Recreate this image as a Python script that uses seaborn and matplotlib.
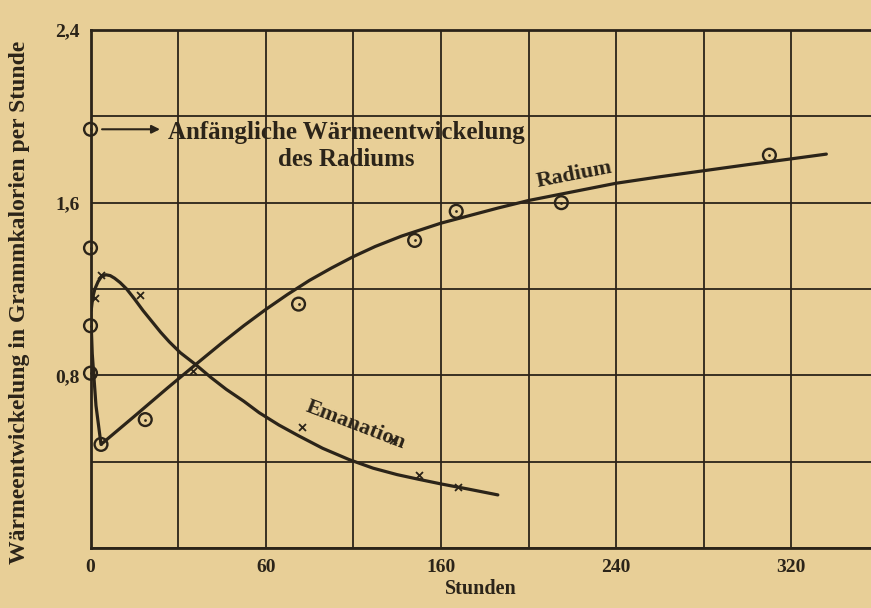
import numpy as np
import pandas as pd
import matplotlib.pyplot as plt
import seaborn as sns

# Values (hours, gram-calories per hour).
radium_pt_h = [0, 0, 0, 0, 4.8, 25, 95, 148, 167, 215, 310]
radium_pt_v = [1.94, 1.39, 1.03, 0.81, 0.48, 0.595, 1.13, 1.425, 1.56, 1.60, 1.82]

eman_pt_h = [2, 5, 22.6, 47, 96.6, 138, 150, 168]
eman_pt_v = [1.16, 1.265, 1.17, 0.82, 0.56, 0.50, 0.338, 0.283]

radium_curve_h = [0, 0.8, 2.5, 4.8, 20, 35, 48, 60, 70, 80, 90, 100, 110, 120, 130,
                  142, 160, 186, 200, 220, 240, 260, 280, 300, 320, 336]
radium_curve_v = [1.12, 0.90, 0.66, 0.48, 0.61, 0.74, 0.85, 0.95, 1.03, 1.105, 1.175,
                  1.24, 1.297, 1.35, 1.397, 1.445, 1.505, 1.575, 1.61, 1.65, 1.69, 1.72,
                  1.748, 1.776, 1.803, 1.825]

eman_curve_h = [0.3, 1, 2, 3.5, 5, 7, 9, 11, 13.5, 16.5, 20, 24, 28, 32, 36, 41, 48,
                55, 62, 70, 77, 86, 95, 106, 118, 129, 140, 150, 160, 172, 186]
eman_curve_v = [1.10, 1.16, 1.20, 1.235, 1.258, 1.266, 1.262, 1.25, 1.23, 1.20, 1.155,
                1.10, 1.05, 1.0, 0.955, 0.905, 0.85, 0.79, 0.735, 0.68, 0.627, 0.57,
                0.52, 0.462, 0.41, 0.37, 0.34, 0.318, 0.297, 0.274, 0.246]

x_ticks = [0, 40, 80, 120, 160, 200, 240, 280, 320]
x_labels = ["0", "", "60", "", "160", "", "240", "", "320"]
y_ticks = [0, 0.4, 0.8, 1.2, 1.6, 2.0, 2.4]
y_labels = ["", "", "0,8", "", "1,6", "", "2,4"]

paper = "#e8cf97"
ink = "#2b2419"

sns.set_style("white", {"axes.facecolor": paper, "figure.facecolor": paper})
plt.rcParams["font.family"] = ["Liberation Serif", "DejaVu Serif"]
plt.rcParams["font.weight"] = "bold"
plt.rcParams["axes.labelweight"] = "bold"

fig = plt.figure(figsize=(8.71, 6.08), dpi=100)
ax = fig.add_axes([90.5 / 871, 1 - 548 / 608, (871 - 90.5) / 871, (548 - 30) / 608])

df_rc = pd.DataFrame({"h": radium_curve_h, "v": radium_curve_v})
df_ec = pd.DataFrame({"h": eman_curve_h, "v": eman_curve_v})
sns.lineplot(data=df_rc, x="h", y="v", sort=False, color=ink, lw=2.3, ax=ax)
sns.lineplot(data=df_ec, x="h", y="v", sort=False, color=ink, lw=2.3, ax=ax)

df_rp = pd.DataFrame({"h": radium_pt_h, "v": radium_pt_v})
sns.scatterplot(data=df_rp, x="h", y="v", marker="o", s=85, facecolor="none",
                edgecolor=ink, linewidth=1.7, ax=ax, zorder=5, clip_on=False)
sns.scatterplot(data=df_rp, x="h", y="v", marker="o", s=4, color=ink, linewidth=0,
                ax=ax, zorder=5, clip_on=False)
df_ep = pd.DataFrame({"h": eman_pt_h, "v": eman_pt_v})
sns.scatterplot(data=df_ep, x="h", y="v", marker="x", s=25, color=ink, linewidth=1.3,
                ax=ax, zorder=5)

ax.set_xlim(0, (871 - 90.5) / 2.19)
ax.set_ylim(0, 2.4)
ax.set_xticks(x_ticks)
ax.set_xticklabels(x_labels, fontsize=14)
ax.set_yticks(y_ticks)
ax.set_yticklabels(y_labels, fontsize=14)
ax.tick_params(length=0, pad=8, colors=ink)
ax.grid(True, color=ink, lw=1.3)
for side in ["left", "bottom", "top"]:
    ax.spines[side].set_color(ink)
    ax.spines[side].set_linewidth(2)
ax.spines["right"].set_visible(False)

ax.set_xlabel("Stunden", fontsize=14.5, color=ink, labelpad=2)
ax.set_ylabel("Wärmeentwickelung in Grammkalorien per Stunde", fontsize=17,
              color=ink)
ax.yaxis.set_label_coords(-0.077, 0.475)

# annotations
ax.annotate("", xy=(33, 1.94), xytext=(4, 1.94),
            arrowprops=dict(arrowstyle="-|>", color=ink, lw=1.5, mutation_scale=12))
ax.text(117, 1.926, "Anfängliche Wärmeentwickelung", ha="center", va="center",
        fontsize=18, color=ink)
ax.text(117, 1.80, "des Radiums", ha="center", va="center", fontsize=18, color=ink)
ax.text(221, 1.727, "Radium", ha="center", va="center", fontsize=16, color=ink,
        rotation=11)
ax.text(121, 0.57, "Emanation", ha="center", va="center", fontsize=16, color=ink,
        rotation=-21)

fig.savefig("out.png", dpi=100, facecolor=paper)
